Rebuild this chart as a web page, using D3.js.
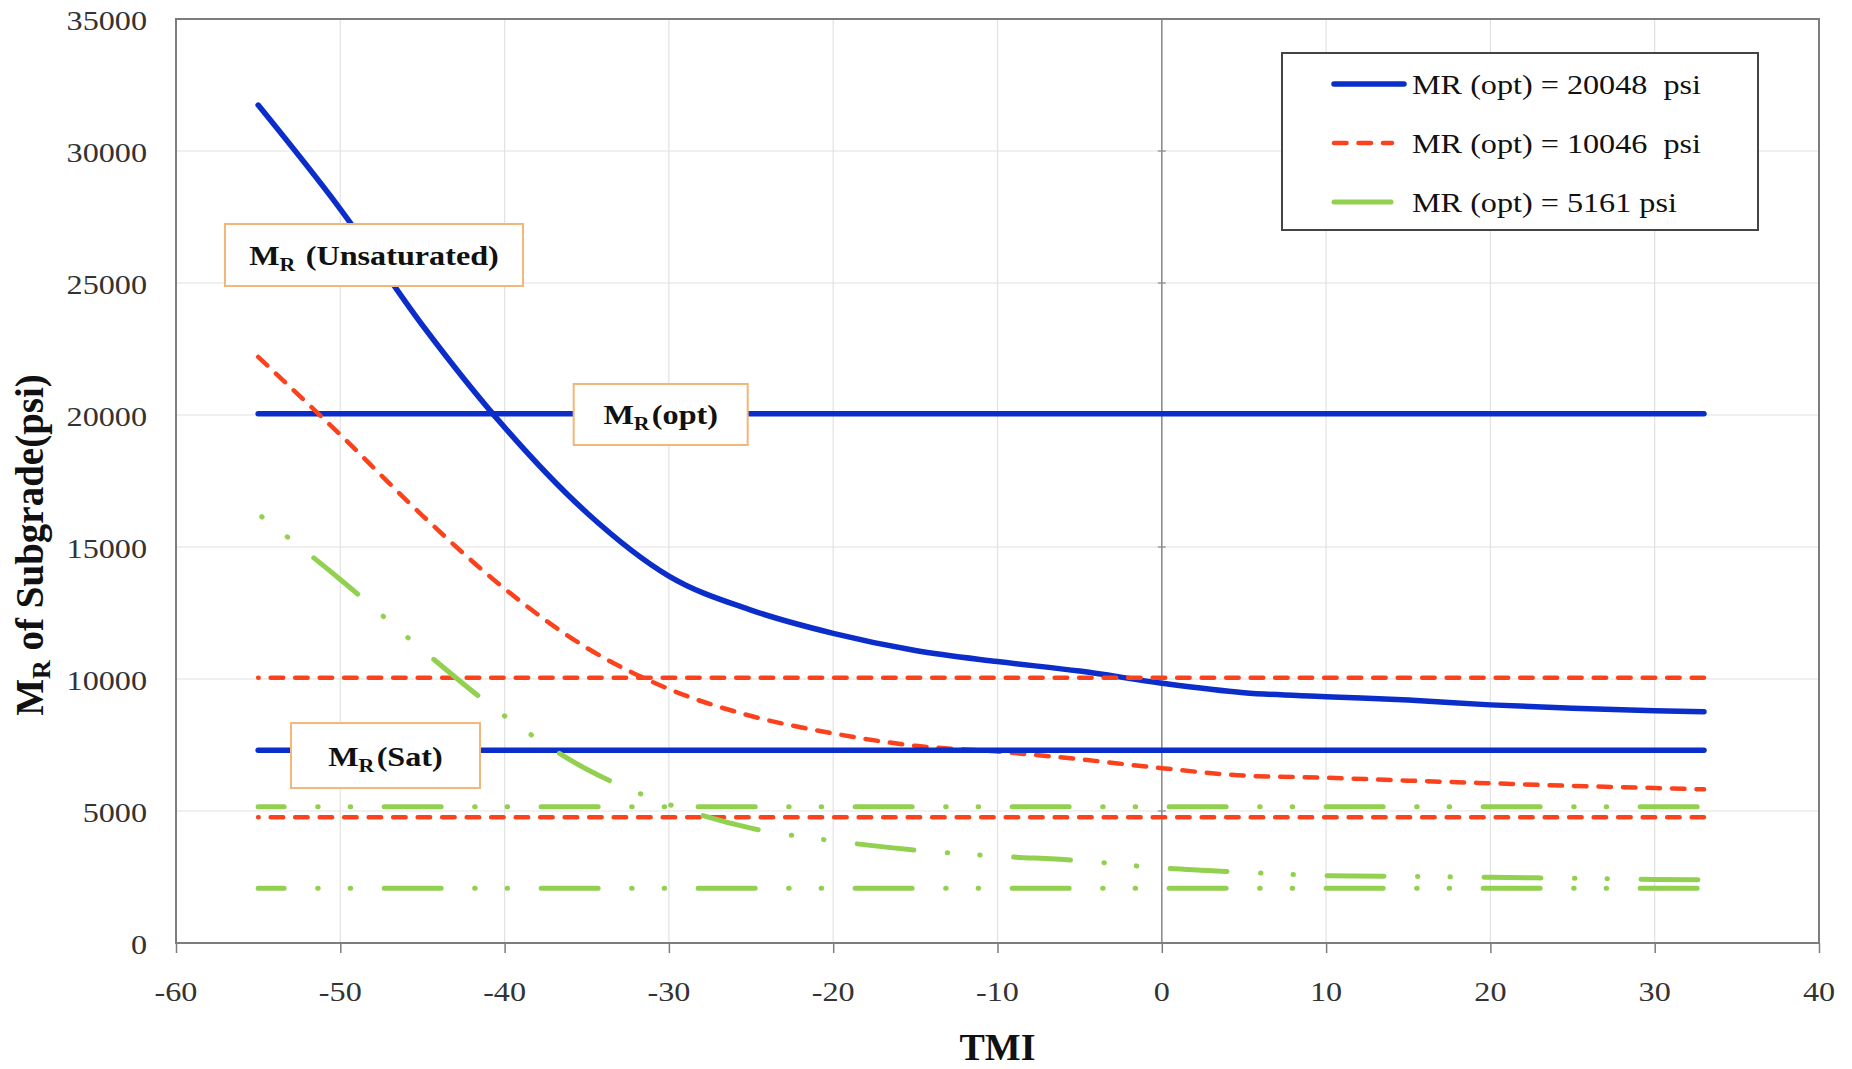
<!DOCTYPE html>
<html>
<head>
<meta charset="utf-8">
<script src="https://cdn.jsdelivr.net/npm/d3@7"></script>
<style>
  body { margin: 0; background: #fff; }
  text { font-family: "Liberation Serif", "Times New Roman", serif; }
</style>
</head>
<body>
<div id="chart"></div>
<script>
const tmi = [-55, -50, -45, -40, -35, -30, -25, -20, -15, -10, -5, 0, 5, 10, 15, 20, 25, 30, 33];

// MR (unsaturated) curves, psi
const mrUnsatHigh = [31740, 27800, 23400, 19530, 16300, 13900, 12610, 11730, 11080, 10660, 10300, 9840, 9480, 9330, 9200, 9020, 8890, 8800, 8760];
const mrUnsatMid  = [22200, 19250, 16190, 13420, 11180, 9620, 8600, 7940, 7470, 7250, 6960, 6620, 6340, 6260, 6150, 6050, 5950, 5870, 5820];
const mrUnsatLow  = [16250, 13770, 11100, 8600, 6580, 5250, 4350, 3870, 3520, 3290, 3120, 2840, 2680, 2550, 2520, 2490, 2450, 2410, 2390];

// constant MR (opt) and MR (sat) levels, psi
const mrOpt = [20048, 10046, 5161];
const mrSat = [7300, 4760, 2070];

const legendLabels = ["MR (opt) = 20048  psi", "MR (opt) = 10046  psi", "MR (opt) = 5161 psi"];

const xTicks = [-60, -50, -40, -30, -20, -10, 0, 10, 20, 30, 40];
const yTicks = [0, 5000, 10000, 15000, 20000, 25000, 30000, 35000];

// Text boxes (centre in data units)
const notes = [
    {main: "M", sub: "R", rest: " (Unsaturated)", t: -47.95, mr: 26060, w: 298, h: 62},
    {main: "M", sub: "R", rest: "(opt)", t: -30.5, mr: 20020, w: 174, h: 61},
    {main: "M", sub: "R", rest: "(Sat)", t: -47.25, mr: 7100, w: 189, h: 65}
];

const width = 1852, height = 1069;
const STRETCH = 1.15; // glyphs in the picture are a bit wide

// one style per soil
const styles = [
    {color: "#0b2dca", width: 5.5, dash: null, curveOffset: 0, flatOffset: 0, sample: 70},
    {color: "#fb421d", width: 4.5, dash: "12.5 12", curveOffset: 0, flatOffset: 12, sample: 58},
    {color: "#92d050", width: 5, dash: "57 33.5 0.5 32 0.5 33.5", curveOffset: 86, flatOffset: 31, sample: 58}
];

const svg = d3.select("#chart")
    .append("svg")
    .attr("width", width)
    .attr("height", height);

const x = d3.scaleLinear().domain([-60, 40]).range([176, 1819]);
const y = d3.scaleLinear().domain([0, 35000]).range([943, 19]);

// gridlines
svg.append("g")
    .selectAll("line")
    .data(xTicks)
    .enter().append("line")
    .attr("x1", d => x(d)).attr("x2", d => x(d))
    .attr("y1", y(0)).attr("y2", y(35000))
    .attr("stroke", "#e2e2e2")
    .attr("stroke-width", 1.2);

svg.append("g")
    .selectAll("line")
    .data(yTicks)
    .enter().append("line")
    .attr("x1", x(-60)).attr("x2", x(40))
    .attr("y1", d => y(d)).attr("y2", d => y(d))
    .attr("stroke", "#e2e2e2")
    .attr("stroke-width", 1.2);

// vertical axis line crossing at TMI = 0, with cross ticks
svg.append("line")
    .attr("x1", x(0)).attr("x2", x(0))
    .attr("y1", y(0)).attr("y2", y(35000))
    .attr("stroke", "#8a8a8a")
    .attr("stroke-width", 1.5);

svg.append("g")
    .selectAll("line")
    .data(yTicks)
    .enter().append("line")
    .attr("x1", x(0) - 4).attr("x2", x(0) + 4)
    .attr("y1", d => y(d)).attr("y2", d => y(d))
    .attr("stroke", "#8a8a8a")
    .attr("stroke-width", 1.2);

// plot border
svg.append("rect")
    .attr("x", x(-60)).attr("y", y(35000))
    .attr("width", x(40) - x(-60))
    .attr("height", y(0) - y(35000))
    .attr("fill", "none")
    .attr("stroke", "#7d7d7d")
    .attr("stroke-width", 2);

// x axis ticks
svg.append("g")
    .attr("transform", "translate(0," + y(0) + ")")
    .call(d3.axisBottom(x).tickValues(xTicks).tickSize(10).tickFormat(""))
    .call(g => g.select(".domain").remove())
    .call(g => g.selectAll(".tick line").attr("stroke", "#7d7d7d").attr("stroke-width", 1.5));

// tick labels
svg.append("g")
    .selectAll("text")
    .data(xTicks)
    .enter().append("text")
    .attr("transform", d => `translate(${x(d)},1001) scale(${STRETCH},1)`)
    .attr("text-anchor", "middle")
    .attr("font-size", 28)
    .attr("fill", "#333")
    .text(d => d);

svg.append("g")
    .selectAll("text")
    .data(yTicks)
    .enter().append("text")
    .attr("transform", d => `translate(147,${y(d) + 10.5}) scale(${STRETCH},1)`)
    .attr("text-anchor", "end")
    .attr("font-size", 28)
    .attr("fill", "#333")
    .text(d => d);

// axis titles
svg.append("text")
    .attr("x", (x(-60) + x(40)) / 2)
    .attr("y", 1060)
    .attr("text-anchor", "middle")
    .attr("font-size", 38)
    .attr("font-weight", "bold")
    .attr("fill", "#111")
    .text("TMI");

const yTitle = svg.append("text")
    .attr("transform", "translate(43,545) rotate(-90)")
    .attr("text-anchor", "middle")
    .attr("font-size", 39)
    .attr("font-weight", "bold")
    .attr("fill", "#111");
yTitle.append("tspan").text("M");
yTitle.append("tspan").attr("font-size", 26).attr("dy", 7).text("R");
yTitle.append("tspan").attr("dy", -7).text(" of Subgrade(psi)");

// lines
const line = d3.line()
    .x(d => x(d[0]))
    .y(d => y(d[1]))
    .curve(d3.curveMonotoneX);

const tStart = tmi[0], tEnd = tmi[tmi.length - 1];
const curves = [mrUnsatHigh, mrUnsatMid, mrUnsatLow];

function drawPath(pts, st, offset) {
    const p = svg.append("path")
        .attr("d", line(pts))
        .attr("fill", "none")
        .attr("stroke", st.color)
        .attr("stroke-width", st.width)
        .attr("stroke-linecap", "round")
        .attr("stroke-linejoin", "round");
    if (st.dash) p.attr("stroke-dasharray", st.dash).attr("stroke-dashoffset", offset);
}

function drawLevel(v, st) {
    drawPath([[tStart, v], [tEnd, v]], st, st.flatOffset);
}

function drawCurve(i) {
    drawPath(tmi.map((t, k) => [t, curves[i][k]]), styles[i], styles[i].curveOffset);
}

drawLevel(mrOpt[0], styles[0]);
drawCurve(1);
drawCurve(0);
drawLevel(mrSat[0], styles[0]);
drawLevel(mrOpt[1], styles[1]);
drawLevel(mrSat[1], styles[1]);
drawLevel(mrOpt[2], styles[2]);
drawLevel(mrSat[2], styles[2]);
drawCurve(2);

// text boxes
notes.forEach(n => {
    const cx = x(n.t), cy = y(n.mr);
    svg.append("rect")
        .attr("x", cx - n.w / 2).attr("y", cy - n.h / 2)
        .attr("width", n.w).attr("height", n.h)
        .attr("fill", "#fff")
        .attr("stroke", "#f0b77a")
        .attr("stroke-width", 2);
    const t = svg.append("text")
        .attr("transform", `translate(${cx},${cy + 10}) scale(${STRETCH},1)`)
        .attr("text-anchor", "middle")
        .attr("font-size", 28)
        .attr("font-weight", "bold")
        .attr("fill", "#111");
    t.append("tspan").text(n.main);
    t.append("tspan").attr("font-size", 19).attr("dy", 6).text(n.sub);
    t.append("tspan").attr("dy", -6).attr("dx", 2).text(n.rest);
});

// legend
const legend = svg.append("g");
legend.append("rect")
    .attr("x", 1282).attr("y", 53)
    .attr("width", 476).attr("height", 177)
    .attr("fill", "#fff")
    .attr("stroke", "#444")
    .attr("stroke-width", 2);

legendLabels.forEach((lab, i) => {
    const st = styles[i];
    const ly = 84 + i * 59;
    const s = legend.append("line")
        .attr("x1", 1334).attr("x2", 1334 + st.sample)
        .attr("y1", ly).attr("y2", ly)
        .attr("stroke", st.color)
        .attr("stroke-width", st.width)
        .attr("stroke-linecap", "round");
    if (st.dash) s.attr("stroke-dasharray", st.dash);
    legend.append("text")
        .attr("transform", `translate(1412,${ly + 10}) scale(${STRETCH},1)`)
        .attr("font-size", 28)
        .attr("fill", "#111")
        .style("white-space", "pre")
        .text(lab);
});
</script>
</body>
</html>
